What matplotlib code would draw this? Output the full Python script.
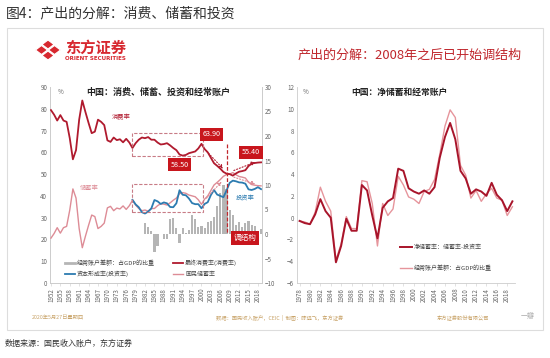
import matplotlib
matplotlib.use("Agg")
import matplotlib.pyplot as plt
from matplotlib.patches import Rectangle, Polygon
import numpy as np

plt.rcParams['font.family'] = ['Noto Sans CJK SC', 'DejaVu Sans']

# ---------------- data ----------------
years_left = list(range(1952, 2020))
consumption = [79.4, 77.3, 74.6, 77.1, 74.6, 74.0, 66.5, 56.8, 61.0, 75.0,
               83.8, 78.5, 73.5, 68.8, 69.5, 75.0, 74.0, 72.5, 65.5, 64.8,
               66.8, 65.6, 66.0, 64.6, 66.2, 64.5, 62.0, 64.2, 65.8, 66.8,
               66.5, 67.0, 65.8, 65.8, 64.5, 63.6, 63.8, 64.2, 63.2, 62.0,
               61.0, 59.0, 58.5, 58.8, 59.6, 60.0, 60.4, 61.8, 63.9, 61.5,
               60.0, 57.5, 55.0, 53.8, 52.5, 51.0, 50.2, 50.0, 49.3, 50.3,
               51.1, 51.4, 51.8, 53.7, 54.8, 55.1, 55.3, 55.4]
savings = [20.6, 22.7, 25.4, 22.9, 25.4, 26.0, 33.5, 43.2, 39.0, 25.0,
           16.2, 21.5, 26.5, 31.2, 30.5, 25.0, 26.0, 27.5, 34.5, 35.2,
           33.2, 34.4, 34.0, 35.4, 33.8, 35.5, 38.0, 35.8, 34.2, 33.2,
           33.5, 33.0, 34.2, 34.2, 35.5, 36.4, 36.2, 35.8, 36.8, 38.0,
           39.0, 41.0, 41.5, 41.2, 40.4, 40.0, 39.6, 38.2, 36.1, 38.5,
           40.0, 42.5, 45.0, 46.2, 47.5, 49.0, 49.8, 50.0, 50.7, 49.7,
           48.9, 48.6, 48.2, 46.3, 45.2, 44.9, 44.7, 44.6]
years_inv = list(range(1978, 2020))
investment = [38.2, 36.1, 34.8, 32.5, 31.9, 32.8, 34.2, 38.1, 37.5, 36.3,
              37.0, 36.6, 34.9, 34.8, 36.6, 42.6, 40.5, 40.3, 38.8, 36.7,
              36.2, 36.2, 34.3, 36.3, 37.1, 40.4, 42.7, 40.6, 40.0, 39.4,
              42.5, 46.0, 47.0, 46.7, 46.2, 46.1, 45.6, 43.0, 42.7, 43.2,
              44.0, 43.1]
years_ca = list(range(1982, 2020))
current_account = [2.3, 1.5, 0.6, -3.7, -2.4, 0.1, -1.0, -1.0, 3.1, 3.3,
                   1.3, -1.9, 1.3, 0.2, 0.8, 3.9, 3.1, 1.4, 1.7, 1.3,
                   2.4, 2.6, 3.5, 5.8, 8.4, 9.9, 9.2, 4.8, 3.9, 1.8,
                   2.5, 1.5, 2.2, 2.7, 1.8, 1.6, 0.4, 1.0]

years_right = list(range(1978, 2020))
net_savings = [-0.3, -0.5, -0.6, 0.3, 1.7, 0.6, 0.0, -4.1, -2.6, -0.1,
               -1.2, -1.2, 3.0, 2.5, 0.2, -1.9, 0.9, 1.5, 1.8, 4.5,
               4.3, 2.7, 2.4, 2.2, 2.5, 2.2, 2.8, 5.5, 7.4, 8.7,
               7.2, 4.3, 3.6, 2.2, 2.6, 2.4, 2.0, 3.2, 2.1, 1.6,
               0.6, 1.5]
ca_right = [-0.3, -0.4, -0.6, 0.5, 2.8, 1.5, 0.6, -3.9, -2.4, 0.1,
            -1.0, -1.0, 3.4, 3.3, 1.3, -2.6, 1.3, 0.2, 0.8, 3.8,
            3.0, 1.9, 1.7, 1.3, 2.4, 2.6, 3.5, 5.8, 8.4, 9.9,
            9.2, 4.8, 3.9, 1.8, 2.5, 1.5, 2.2, 2.7, 1.8, 1.6,
            0.2, 1.0]

left_xticks = list(range(1952, 2019, 3))
right_xticks = list(range(1978, 2019, 2))

# ---------------- styles ----------------
C_CONS = '#b01a2e'
C_SAV = '#dd8c96'
C_INV = '#2c7bb0'
C_BAR = '#b5b5b5'
C_NET = '#a8142a'
C_CA = '#e6959c'
C_AX = '#cccccc'
C_TICK = '#666666'
C_FOOT = '#c9a46a'

W, H = 550, 358
fig = plt.figure(figsize=(5.5, 3.58), dpi=100)
fig.patch.set_facecolor('white')

def fx(x):
    return x / W

def fy(y):
    return 1 - y / H

# panel border
fig.patches.append(Rectangle((fx(7), fy(330)), fx(536), 302 / H, transform=fig.transFigure,
                             fill=False, edgecolor='#dddddd', lw=0.8))

fig.text(fx(6), fy(13), '图4：产出的分解：消费、储蓄和投资', fontsize=10, color='#333333',
         va='center', ha='left')
fig.text(fx(5), fy(343), '数据来源：国民收入账户，东方证券', fontsize=5.8, color='#333333',
         va='center', ha='left')

# logo
cx, cy = 48, 50
for dx, dy in [(-6.5, 0), (6.5, 0), (0, -5.5), (0, 5.5)]:
    px, py = cx + dx, cy + dy
    pts = [(px - 6, py), (px, py - 4.5), (px + 6, py), (px, py + 4.5)]
    fig.patches.append(Polygon([(fx(a), fy(b)) for a, b in pts], closed=True,
                               transform=fig.transFigure, facecolor='#d7282f', edgecolor='white', lw=0.8))
fig.text(fx(65), fy(48), '东方证券', fontsize=11, color='#d7282f', fontweight='bold', va='center', ha='left')
fig.text(fx(65), fy(58), 'ORIENT SECURITIES', fontsize=4.0, color='#d7282f', fontweight='bold',
         va='center', ha='left', family=['DejaVu Sans'])

fig.text(fx(410), fy(55), '产出的分解：2008年之后已开始调结构', fontsize=9.4, color='#c0272d',
         va='center', ha='center')

# ---------------- left chart ----------------
ax1 = fig.add_axes([fx(50), fy(283), 212 / W, 196 / H])
ax1b = ax1.twinx()
ax1b.set_zorder(ax1.get_zorder() - 1)
ax1.patch.set_visible(False)

ax1.set_xlim(1951.7, 2019.3)
ax1.set_ylim(0, 90)
ax1b.set_ylim(-10, 30)

ax1b.bar(years_ca, current_account, width=0.7, color=C_BAR, zorder=1)
ax1.plot(years_left, savings, color=C_SAV, lw=1.0, zorder=3)
ax1.plot(years_inv, investment, color=C_INV, lw=1.3, zorder=4)
ax1.plot(years_left, consumption, color=C_CONS, lw=1.3, zorder=5)

ax1.set_yticks(range(0, 91, 10))
ax1b.set_yticks(range(-10, 31, 5))
ax1.set_xticks(left_xticks)
ax1.set_xticklabels([str(v) for v in left_xticks], rotation=90)
for a in (ax1, ax1b):
    a.tick_params(labelsize=4.5, colors=C_TICK, length=0, pad=2)
    for s in a.spines.values():
        s.set_color(C_AX)
        s.set_linewidth(0.6)
    a.spines['top'].set_visible(False)
ax1.tick_params(axis='x', length=2, width=0.4, color=C_AX, pad=1.5)

# dashed boxes
for (x0, x1, y0, y1) in [(1978, 2000.5, 58.3, 68.9), (1978, 2000.5, 32.6, 45.5)]:
    ax1.add_patch(Rectangle((x0, y0), x1 - x0, y1 - y0, fill=False, edgecolor='#c87c86',
                            lw=0.8, ls=(0, (3, 1.5)), zorder=6))
ax1.plot([2008.2, 2008.2], [64, 23], color='#c0272d', lw=0.9, ls=(0, (3, 1.5)), zorder=6)

def arrow(x0, y0, x1, y1, c):
    ax1.annotate('', xy=(x1, y1), xytext=(x0, y0),
                 arrowprops=dict(arrowstyle='-|>', color=c, lw=0.8, ls=':', mutation_scale=5),
                 zorder=7)

arrow(2001, 61.5, 2007.5, 51.5, '#b01a2e')
arrow(2009.5, 51.2, 2018, 56.0, '#b01a2e')
arrow(2001, 38.0, 2007, 47.5, C_SAV)
arrow(2009.5, 49.0, 2018, 45.0, C_SAV)

def redbox(x, y, s, fs=5.2):
    ax1.text(x, y, s, fontsize=fs, color='white', ha='center', va='center', zorder=8,
             bbox=dict(boxstyle='square,pad=0.35', facecolor='#c8161d', edgecolor='none'))

redbox(2003.3, 68.4, '63.90')
redbox(1993.0, 54.4, '58.50')
redbox(2015.8, 60.1, '55.40')
redbox(2013.8, 20.6, '调结构', fs=5.5)

ax1.text(1971.4, 76.0, '消费率', fontsize=4.5, color=C_CONS, ha='left', va='center', zorder=8)
ax1.text(1961.3, 43.8, '储蓄率', fontsize=4.5, color=C_SAV, ha='left', va='center', zorder=8)
ax1.text(2010.8, 39.3, '投资率', fontsize=4.5, color=C_INV, ha='left', va='center', zorder=8)

fig.text(fx(158), fy(92), '中国：消费、储蓄、投资和经常账户', fontsize=6.5, color='#222222',
         ha='center', va='center', fontweight='bold')
fig.text(fx(61), fy(92), '%', fontsize=4.5, color=C_TICK, ha='center', va='center')

# left legend (manual)
leg = [(65, 263, C_BAR, 2.0, '经常账户差额：占GDP的比重'),
       (173, 263, C_CONS, 1.3, '最终消费率(消费率)'),
       (65, 274, C_INV, 1.3, '资本形成率(投资率)'),
       (173, 274, C_SAV, 1.0, '国民储蓄率')]
for x, y, c, lw, s in leg:
    fig.lines.append(plt.Line2D([fx(x), fx(x + 10)], [fy(y), fy(y)], transform=fig.transFigure,
                                color=c, lw=lw))
    fig.text(fx(x + 12), fy(y), s, fontsize=4.3, color='#444444', ha='left', va='center')

# ---------------- right chart ----------------
ax2 = fig.add_axes([fx(297), fy(283), 218 / W, 196 / H])
ax2.set_xlim(1977.5, 2019.5)
ax2.set_ylim(-6, 12)
ax2.plot(years_right, ca_right, color=C_CA, lw=1.0, zorder=3)
ax2.plot(years_right, net_savings, color=C_NET, lw=1.4, zorder=4)
ax2.set_yticks(range(-6, 13, 2))
ax2.set_xticks(right_xticks)
ax2.set_xticklabels([str(v) for v in right_xticks], rotation=90)
ax2.tick_params(labelsize=4.5, colors=C_TICK, length=0, pad=2)
ax2.tick_params(axis='x', length=2, width=0.4, color=C_AX, pad=1.5)
for k, s in ax2.spines.items():
    s.set_color(C_AX)
    s.set_linewidth(0.6)
ax2.spines['top'].set_visible(False)
ax2.spines['right'].set_visible(False)

fig.text(fx(399), fy(92), '中国：净储蓄和经常账户', fontsize=6.3, color='#222222',
         ha='center', va='center', fontweight='bold')
fig.text(fx(306), fy(92), '%', fontsize=4.5, color=C_TICK, ha='center', va='center')

for x, y, c, lw, s in [(400, 247, C_NET, 1.4, '净储蓄率：储蓄率-投资率'),
                       (400, 268, C_CA, 1.0, '经常账户差额：占GDP的比重')]:
    fig.lines.append(plt.Line2D([fx(x), fx(x + 12)], [fy(y), fy(y)], transform=fig.transFigure,
                                color=c, lw=lw))
    fig.text(fx(x + 14), fy(y), s, fontsize=4.3, color='#444444', ha='left', va='center')

# footer
fig.text(fx(32), fy(318), '2020年5月27日星期四', fontsize=3.8, color=C_FOOT, ha='left', va='center')
fig.text(fx(280), fy(318), '数据：国民收入账户，CEIC  |  制图：陈远飞，东方证券', fontsize=3.8,
         color=C_FOOT, ha='center', va='center')
fig.text(fx(463), fy(318), '东方证券股份有限公司', fontsize=3.8, color=C_FOOT, ha='center', va='center')
fig.text(fx(528), fy(316), '一瓣', fontsize=5, color='#aaaaaa', ha='center', va='center')

fig.savefig('out.png', dpi=100)
